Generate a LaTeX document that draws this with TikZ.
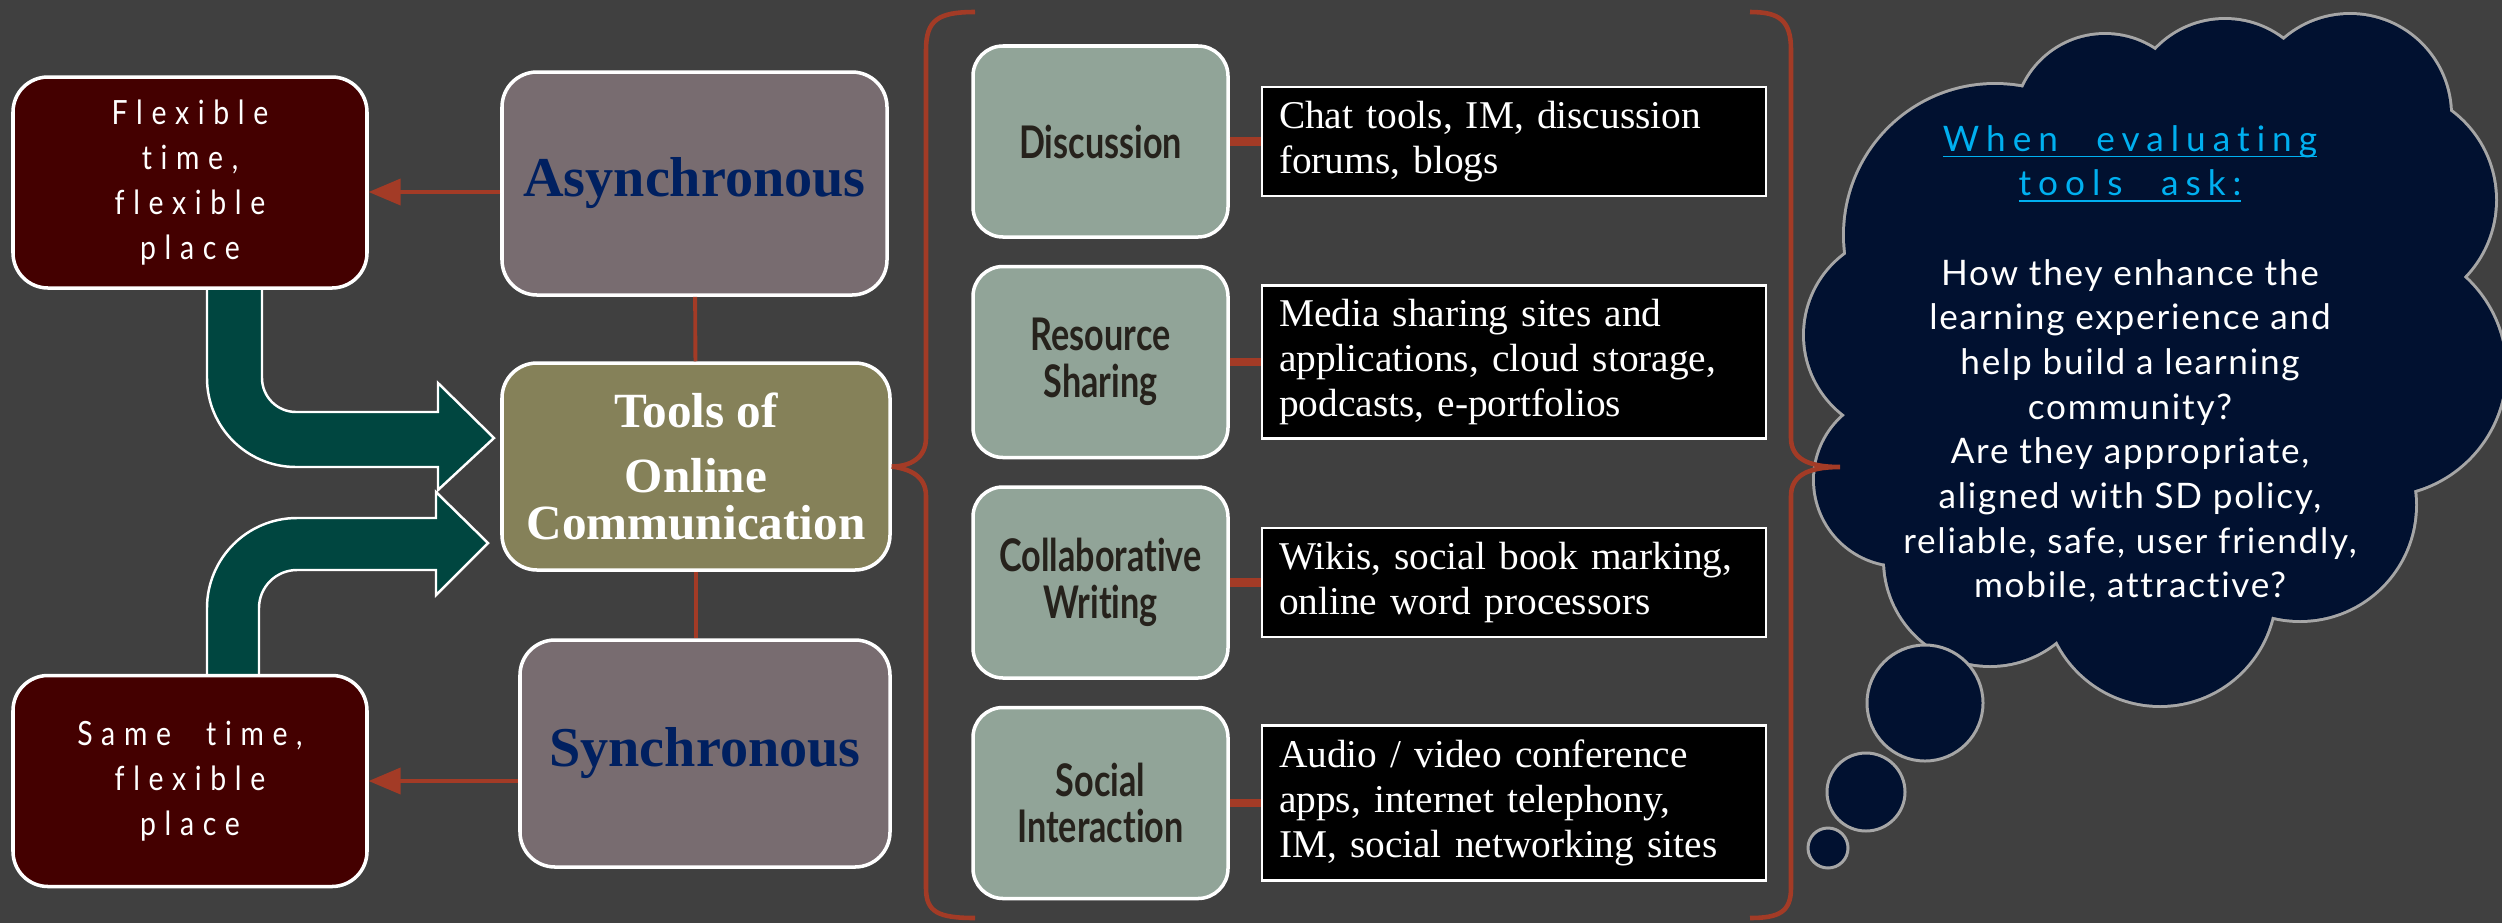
\documentclass[tikz,border=0pt]{standalone}
\usepackage{amsmath}
\usepackage{fontspec}
\setmainfont{Liberation Serif}
\newfontfamily\spacedfont[LetterSpace=26,WordSpace=2.2,FakeStretch=0.85,Ligatures=NoCommon]{Lato}
\newfontfamily\catfont[FakeStretch=0.76,Ligatures=NoCommon]{Lato}
\newfontfamily\cloudfont[LetterSpace=5,Ligatures=NoCommon]{Lato}
\newfontfamily\cloudtitle[LetterSpace=20,WordSpace=2.4,Ligatures=NoCommon]{Lato}
\usepackage{tikz}
\usetikzlibrary{arrows}
\definecolor{bgrey}{RGB}{64,64,64}
\definecolor{dmaroon}{RGB}{68,0,0}
\definecolor{lmauve}{RGB}{120,108,112}
\definecolor{dolive}{RGB}{133,129,89}
\definecolor{dteal}{RGB}{0,70,64}
\definecolor{rust}{RGB}{163,59,38}
\definecolor{dnavy}{RGB}{0,32,96}
\definecolor{lsage}{RGB}{145,164,152}
\definecolor{dbrown}{RGB}{38,34,28}
\definecolor{cloudnavy}{RGB}{1,17,48}
\definecolor{cloudgrey}{RGB}{166,166,166}
\definecolor{skyblue}{RGB}{0,176,240}
\newcommand{\asktitle}[1]{{\cloudtitle\color{skyblue}\underline{\smash[b]{#1}}}}

\begin{document}
\begin{tikzpicture}[>=triangle 45,thick]
      \tikzstyle{timebox}=[draw=white,line width=1pt,rounded corners=0.35cm,fill=dmaroon,text=white,minimum width=3.54cm,minimum height=2.11cm,align=center,font=\spacedfont\fontsize{9.5}{12.8}\selectfont]
      \tikzstyle{modebox}=[draw=white,line width=1pt,rounded corners=0.35cm,fill=lmauve,text=dnavy,minimum width=3.85cm,minimum height=2.23cm,font=\bfseries\fontsize{16}{18}\selectfont]
      \tikzstyle{hubbox}=[draw=white,line width=1pt,rounded corners=0.35cm,fill=dolive,text=white,minimum width=3.88cm,minimum height=2.07cm,align=center,font=\bfseries\fontsize{14}{13.4}\selectfont]
      \tikzstyle{catbox}=[draw=white,line width=1pt,rounded corners=0.3cm,fill=lsage,text=dbrown,minimum width=2.55cm,minimum height=1.91cm,align=center,font=\catfont\bfseries\fontsize{12.8}{13.3}\selectfont]
      \tikzstyle{descbox}=[draw=white,line width=0.6pt,fill=black,text=white,text width=4.70cm,inner xsep=0.17cm,inner ysep=0.06cm,align=left,font=\fontsize{11.2}{12.8}\selectfont]
      \tikzstyle{link}=[draw=rust,line width=1.1pt]
      \tikzstyle{stub}=[draw=rust,line width=2.3pt]
      \tikzstyle{bigarrow}=[draw=white,line width=0.7pt,fill=dteal]
      \tikzstyle{bracepath}=[draw=rust,line width=1.3pt]
      \tikzstyle{bubble}=[draw=cloudgrey,line width=0.85pt,fill=cloudnavy]

      % background
      \fill[bgrey] (0,0) rectangle (25.02,-9.23);
      \useasboundingbox (0,0) rectangle (25.02,-9.23);

      % bent arrows
      \path[bigarrow] (2.07,-2.80) -- (2.07,-3.78) arc[start angle=180,end angle=270,radius=0.89]
        -- (4.38,-4.67) -- (4.38,-4.90) -- (4.94,-4.38) -- (4.38,-3.83) -- (4.38,-4.12)
        -- (2.96,-4.12) arc[start angle=270,end angle=180,radius=0.34] -- (2.62,-2.80) -- cycle;
      \path[bigarrow] (2.07,-6.85) -- (2.07,-6.08) arc[start angle=180,end angle=90,radius=0.90]
        -- (4.36,-5.18) -- (4.36,-4.92) -- (4.88,-5.43) -- (4.36,-5.95) -- (4.36,-5.70)
        -- (2.97,-5.70) arc[start angle=90,end angle=180,radius=0.38] -- (2.59,-6.85) -- cycle;

      \node[timebox]	(flex)	at (1.90,-1.825)	{Flexible\\time,\\flexible\\place};
      \node[timebox]	(same)	at (1.90,-7.81)	{Same time,\\flexible\\place};
      \node[modebox]	(async)	at (6.945,-1.835)	{Asynchronous};
      \node[hubbox]	(tools)	at (6.96,-4.665)	{Tools of\\[5pt]Online\\Communication};
      \node[modebox,minimum width=3.70cm,minimum height=2.27cm]	(sync)	at (7.05,-7.535)	{Synchronous};

      \node[catbox]	(disc)	at (11.005,-1.415)	{Discussion};
      \node[catbox]	(res)	[below of = disc, node distance=2.205cm]	{Resource\\Sharing};
      \node[catbox]	(collab)	[below of = res, node distance=2.205cm]	{Collaborative\\Writing};
      \node[catbox]	(social)	[below of = collab, node distance=2.205cm]	{Social\\Interaction};

      \node[descbox,minimum height=1.09cm]	(discd)	[right of = disc, node distance=4.135cm]	{Chat tools, IM, discussion\\forums, blogs};
      \node[descbox,minimum height=1.53cm]	(resd)	[right of = res, node distance=4.135cm]	{Media sharing sites and\\applications, cloud storage,\\podcasts, e-portfolios};
      \node[descbox,minimum height=1.09cm]	(collabd)	[right of = collab, node distance=4.135cm]	{Wikis, social book marking,\\online word processors};
      \node[descbox,minimum height=1.55cm]	(sociald)	[right of = social, node distance=4.135cm]	{Audio / video conference\\apps, internet telephony,\\IM, social networking sites};

      \draw[link] (async) -- (tools);
      \draw[link] (tools.south) -- (tools.south |- sync.north);
      \draw[link,->] ([yshift=-0.085cm]async.west) -- ([yshift=-0.085cm]async.west -| flex.east);
      \draw[link,->] (sync.west |- same.east) -- (same.east);

      \draw[stub] (disc) -- (discd);
      \draw[stub] (res) -- (resd);
      \draw[stub] (collab) -- (collabd);
      \draw[stub] (social) -- (sociald);

      % thought cloud
      \path[fill=cloudnavy,preaction={draw=cloudgrey,line width=1.7pt}]
        (19.05,-3.35) circle (1.00) (19.00,-4.80) circle (0.85) (19.90,-5.60) circle (1.05)
        (21.60,-5.90) circle (1.15) (23.00,-5.05) circle (1.15) (23.80,-3.70) circle (1.25)
        (23.85,-2.00) circle (1.10) (23.50,-1.15) circle (1.00) (22.25,-1.15) circle (0.95)
        (21.05,-1.25) circle (0.90) (19.95,-2.35) circle (1.50) (21.50,-3.60) circle (2.50);
      \draw[bubble] (19.25,-7.03) circle (0.58);
      \draw[bubble] (18.66,-7.92) circle (0.39);
      \draw[bubble] (18.28,-8.48) circle (0.20);

      % braces
      \draw[bracepath] (9.75,-0.12) .. controls (9.38,-0.12) and (9.26,-0.20) .. (9.26,-0.50)
        -- (9.26,-4.38) .. controls (9.26,-4.58) and (9.10,-4.665) .. (tools.east)
        .. controls (9.10,-4.69) and (9.26,-4.76) .. (9.26,-4.96)
        -- (9.26,-8.88) .. controls (9.26,-9.12) and (9.38,-9.18) .. (9.75,-9.18);
      \draw[bracepath] (17.50,-0.12) .. controls (17.79,-0.12) and (17.91,-0.20) .. (17.91,-0.50)
        -- (17.91,-4.38) .. controls (17.91,-4.58) and (18.07,-4.67) .. (18.40,-4.67)
        .. controls (18.07,-4.67) and (17.91,-4.76) .. (17.91,-4.96)
        -- (17.91,-8.88) .. controls (17.91,-9.12) and (17.79,-9.18) .. (17.50,-9.18);

      \node[anchor=north,inner sep=0pt,text=white,align=center,font=\cloudfont\fontsize{10}{12.7}\selectfont] (ask) at (21.30,-1.24)
        {\asktitle{When evaluating}\\\asktitle{tools ask:}\\[12.7pt]
         How they enhance the\\learning experience and\\help build a learning\\community?\\
         Are they appropriate,\\aligned with SD policy,\\reliable, safe, user friendly,\\mobile, attractive?};

  \end{tikzpicture}
\end{document}
